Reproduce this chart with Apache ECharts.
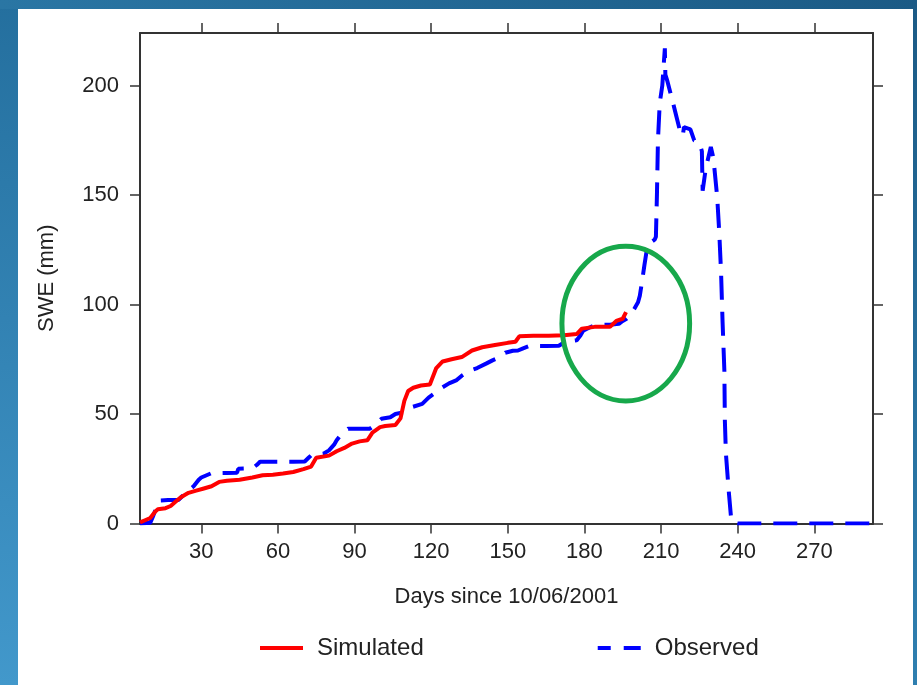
<!DOCTYPE html>
<html><head><meta charset="utf-8">
<script src="https://cdn.jsdelivr.net/npm/echarts@6/dist/echarts.min.js"></script>
<style>html,body{margin:0;padding:0;background:#fff}#c{width:917px;height:685px}</style>
</head><body><div id="c"></div>
<script>
// ---- data ----
const xTicks = [30, 60, 90, 120, 150, 180, 210, 240, 270];
const yTicks = [0, 50, 100, 150, 200];
const xRange = [6, 293];
const yRange = [0, 224];
const seriesNames = ['Simulated', 'Observed'];

// Simulated SWE (mm) by day
const simulated = [
  [6,0.5],[8,1.5],[10,2.5],[12,5.5],[13,6.5],[16,7],[18,8],[20,10],[22,12],[25,14],[28,15],[31,16],
  [34,17],[37,19],[40,19.5],[45,20],[50,21],[54,22],[58,22.3],[62,22.8],[66,23.5],[70,24.8],[73,26],
  [75,30],[80,31],[83,33],[86,34.5],[89,36.5],[92,37.5],[95,38],[97,41.5],[100,44],[102,44.5],[106,45],
  [108,48],[109.5,56],[111,60.5],[113,62],[116,63],[119.5,63.5],[122,71],[124.5,74],[128,75],[132,76],
  [136,79],[140,80.5],[145,81.5],[150,82.5],[153,83],[154.5,85.5],[160,85.7],[166,85.7],[172,86],
  [177,86.5],[179,89],[184,89.8],[190,89.8],[192.5,92.5],[195,93.5],[196.3,96.5]
];

// Observed SWE (mm) by day
const observed = [
  [6,0],[10,0.3],[11,3],[12.5,7.5],[13.5,10.5],[17,10.7],[21,10.7],[23,13],[25,15],[27,17],[29,20],
  [30,21],[34,23],[40,23.1],[44,23.2],[44.5,25],[50,25.2],[52,27],[53,28.2],[60,28.2],[66,28.2],
  [70.5,28.3],[72,30],[73,31.1],[78,32],[80,33.4],[82,36],[83,38],[85,41],[87.5,43.3],[92,43.3],
  [96,43.3],[98,45],[100.5,47.8],[104,48.5],[106,50],[110,51],[112,53],[116.5,54.6],[119,57.5],
  [122,60],[124.5,62.2],[127,64],[130,65.5],[132,67.5],[135,69.8],[138,71],[141.5,73],[144,74.5],
  [146.7,75.8],[149,78],[152,78.9],[154,79],[156,80],[158.5,81.1],[165,81.1],[170,81.2],[172.5,83],
  [177,83.7],[178.5,86],[179.5,88],[182,89.5],[184.5,90.7],[190,90.8],[193.5,91.2],[195,92.5],
  [196.5,93.5],[198,95],[199.5,98],[201,101],[201.7,104],[202.5,110],[203.5,118],[204.3,124],
  [205.5,128],[207.5,129.6],[208,131],[208.4,150],[208.8,175],[209.5,192],[210.5,200],[211.5,217],
  [211.7,205],[212.5,202],[214.5,193],[216,186],[217.5,179],[218.5,177],[219,181],[221.5,180],
  [223,175],[225,174],[226,170],[226.3,152],[227.5,162],[229.5,172],[230.5,167],[232,149],[232.8,133],
  [233.5,115],[234.1,92],[234.8,70],[235,47],[235.4,32],[236.5,15],[237.4,3],[238,0.5],[240,0],[293,0]
];

// annotation ellipse (data units): center and radii
const highlightCenter = [196.2, 91.3];
const highlightRadius = [25, 35.3];

// ---- chart ----
const FONT = 'Liberation Sans, Arial, Helvetica, sans-serif';
const axisColor = '#333';
const chart = echarts.init(document.getElementById('c'), null, {renderer: 'canvas'});

function xAxisCfg(pos, labels) {
  return {
    type: 'value', position: pos, min: xRange[0], max: xRange[1],
    axisLine: {show: true, onZero: false, lineStyle: {color: axisColor, width: 2}},
    axisTick: {show: true, customValues: xTicks, length: 10, lineStyle: {color: axisColor, width: 1.5}},
    axisLabel: {show: labels, customValues: xTicks, fontSize: 22, margin: 17, color: '#222', fontFamily: FONT},
    splitLine: {show: false},
    name: labels ? 'Days since 10/06/2001' : '', nameLocation: 'middle', nameGap: 62,
    nameTextStyle: {fontSize: 22, color: '#222', fontFamily: FONT}
  };
}
function yAxisCfg(pos, labels) {
  return {
    type: 'value', position: pos, min: yRange[0], max: yRange[1],
    axisLine: {show: true, onZero: false, lineStyle: {color: axisColor, width: 2}},
    axisTick: {show: true, customValues: yTicks, length: 10, lineStyle: {color: axisColor, width: 1.5}},
    axisLabel: {show: labels, customValues: yTicks, fontSize: 22, margin: 21, color: '#222', fontFamily: FONT},
    splitLine: {show: false},
    name: labels ? 'SWE (mm)' : '', nameLocation: 'middle', nameGap: 82,
    nameTextStyle: {fontSize: 22, color: '#222', fontFamily: FONT}
  };
}

const option = {
  backgroundColor: '#ffffff',
  animation: false,
  grid: {left: 140, right: 44, top: 33, bottom: 161.5, containLabel: false},
  xAxis: [xAxisCfg('bottom', true), xAxisCfg('top', false)],
  yAxis: [yAxisCfg('left', true), yAxisCfg('right', false)],
  legend: {
    left: 258, top: 636, padding: 0, itemWidth: 43, itemHeight: 20, itemGap: 172,
    textStyle: {fontSize: 24, color: '#222', fontFamily: FONT, padding: [0, 0, 0, 9]},
    data: [
      {name: seriesNames[0], itemStyle: {opacity: 0}, lineStyle: {width: 4}},
      {name: seriesNames[1], itemStyle: {opacity: 0}, lineStyle: {width: 4, type: [13, 13, 17, 3]}}
    ]
  },
  series: [
    {name: seriesNames[0], type: 'line', data: simulated, showSymbol: false, symbol: 'none',
     lineStyle: {color: '#ff0000', width: 4}, itemStyle: {color: '#ff0000'}, z: 3},
    {name: seriesNames[1], type: 'line', data: observed, showSymbol: false, symbol: 'none',
     lineStyle: {color: '#0000ff', width: 4, type: [24, 12]}, itemStyle: {color: '#0000ff'}, z: 2}
  ]
};
chart.setOption(option);

// frame + annotation
const c0 = chart.convertToPixel({xAxisIndex: 0, yAxisIndex: 0}, highlightCenter);
const c1 = chart.convertToPixel({xAxisIndex: 0, yAxisIndex: 0},
  [highlightCenter[0] + highlightRadius[0], highlightCenter[1] + highlightRadius[1]]);
chart.setOption({
  graphic: [
    {type: 'rect', shape: {x: 0, y: 0, width: 18, height: 685}, z: 100,
     style: {fill: new echarts.graphic.LinearGradient(0, 0, 0, 1, [{offset: 0, color: '#246f9e'}, {offset: 1, color: '#4298cb'}])}},
    {type: 'rect', shape: {x: 0, y: 0, width: 917, height: 9}, z: 100,
     style: {fill: new echarts.graphic.LinearGradient(0, 0, 1, 0, [{offset: 0, color: '#2a76a4'}, {offset: 1, color: '#1b5a85'}])}},
    {type: 'rect', shape: {x: 913, y: 0, width: 4, height: 685}, z: 100,
     style: {fill: new echarts.graphic.LinearGradient(0, 0, 0, 1, [{offset: 0, color: '#1b5a85'}, {offset: 1, color: '#2f7fb0'}])}},
    {type: 'ellipse', shape: {cx: c0[0], cy: c0[1], rx: Math.abs(c1[0] - c0[0]), ry: Math.abs(c0[1] - c1[1])}, z: 50,
     style: {fill: 'none', stroke: '#17a84b', lineWidth: 5}}
  ]
});
</script>
</body></html>
